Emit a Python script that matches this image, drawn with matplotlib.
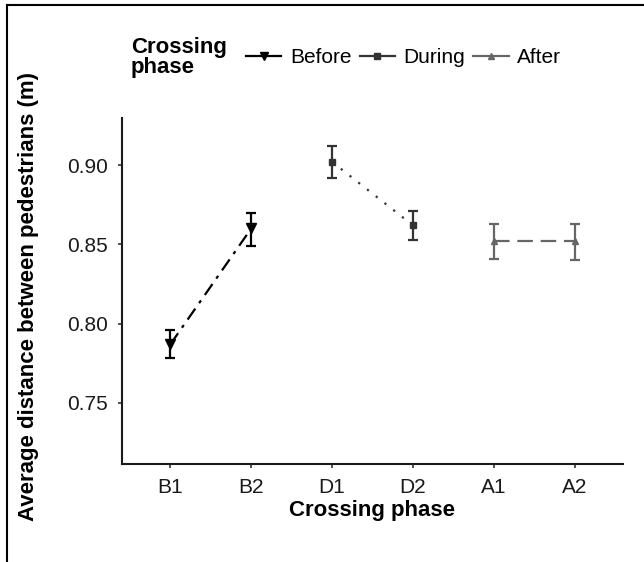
import matplotlib.pyplot as plt
from matplotlib.lines import Line2D

plt.rcParams['font.family'] = ['Liberation Sans', 'DejaVu Sans']

phases = ['B1', 'B2', 'D1', 'D2', 'A1', 'A2']
groups = ['Before', 'During', 'After']
means = {'Before': [0.787, 0.860], 'During': [0.902, 0.862], 'After': [0.852, 0.852]}
lower = {'Before': [0.778, 0.849], 'During': [0.892, 0.853], 'After': [0.841, 0.840]}
upper = {'Before': [0.796, 0.870], 'During': [0.912, 0.871], 'After': [0.863, 0.863]}
yticks = [0.75, 0.80, 0.85, 0.90]

colors = {'Before': '#000000', 'During': '#333333', 'After': '#666666'}
markers = {'Before': 'v', 'During': 's', 'After': '^'}
styles = {'Before': (0, (6, 3, 1.5, 3)), 'During': (0, (1, 4)), 'After': (0, (7, 3.5))}
msize = {'Before': 7, 'During': 5, 'After': 5}

fig = plt.figure(figsize=(6.44, 5.62), dpi=100)
ax = fig.add_axes([0.1894, 0.1744, 0.778, 0.6157])

for i, g in enumerate(groups):
    xs = [2 * i, 2 * i + 1]
    m = means[g]
    err = [[a - b for a, b in zip(m, lower[g])], [b - a for a, b in zip(m, upper[g])]]
    ax.errorbar(xs, m, yerr=err, fmt='none', ecolor=colors[g], elinewidth=1.6,
                capsize=3.3, capthick=1.6)
    ax.plot(xs, m, color=colors[g], linestyle=styles[g], linewidth=1.6,
            marker=markers[g], markersize=msize[g])

ax.set_xlim(-0.6, 5.6)
ax.set_ylim(0.7114, 0.9297)
ax.set_xticks(range(len(phases)))
ax.set_xticklabels(phases)
ax.set_yticks(yticks)
ax.set_yticklabels(['%.2f' % v for v in yticks])
ax.tick_params(labelsize=15, length=3, width=1.2, pad=7, colors='#333333',
               labelcolor='#1a1a1a')
for s in ['top', 'right']:
    ax.spines[s].set_visible(False)
for s in ['left', 'bottom']:
    ax.spines[s].set_linewidth(1.5)
    ax.spines[s].set_color('#1a1a1a')

fig.text(0.578, 0.0925, 'Crossing phase', fontsize=16, fontweight='bold',
         ha='center', va='center')
fig.text(0.044, 0.473, 'Average distance between pedestrians (m)', rotation=90,
         fontsize=16, fontweight='bold', ha='center', va='center')

handles = [Line2D([0], [0], color=colors[g], linewidth=1.6, marker=markers[g],
                  markersize=msize[g] - 1) for g in groups]
fig.text(0.203, 0.897, 'Crossing\nphase', fontsize=16, fontweight='bold',
         ha='left', va='center', linespacing=0.95)
fig.legend(handles, groups, ncol=3, loc='center left', bbox_to_anchor=(0.382, 0.897),
           frameon=False, fontsize=15, handlelength=1.7, handletextpad=0.4,
           columnspacing=0.4, borderaxespad=0, borderpad=0)

# outer frame lines (top and left)
fig.add_artist(Line2D([7 / 644, 1], [1 - 5 / 562, 1 - 5 / 562], color='black',
                      linewidth=1.5, transform=fig.transFigure))
fig.add_artist(Line2D([7 / 644, 7 / 644], [0, 1 - 5 / 562], color='black',
                      linewidth=1.5, transform=fig.transFigure))

fig.savefig('out.png', dpi=100)
